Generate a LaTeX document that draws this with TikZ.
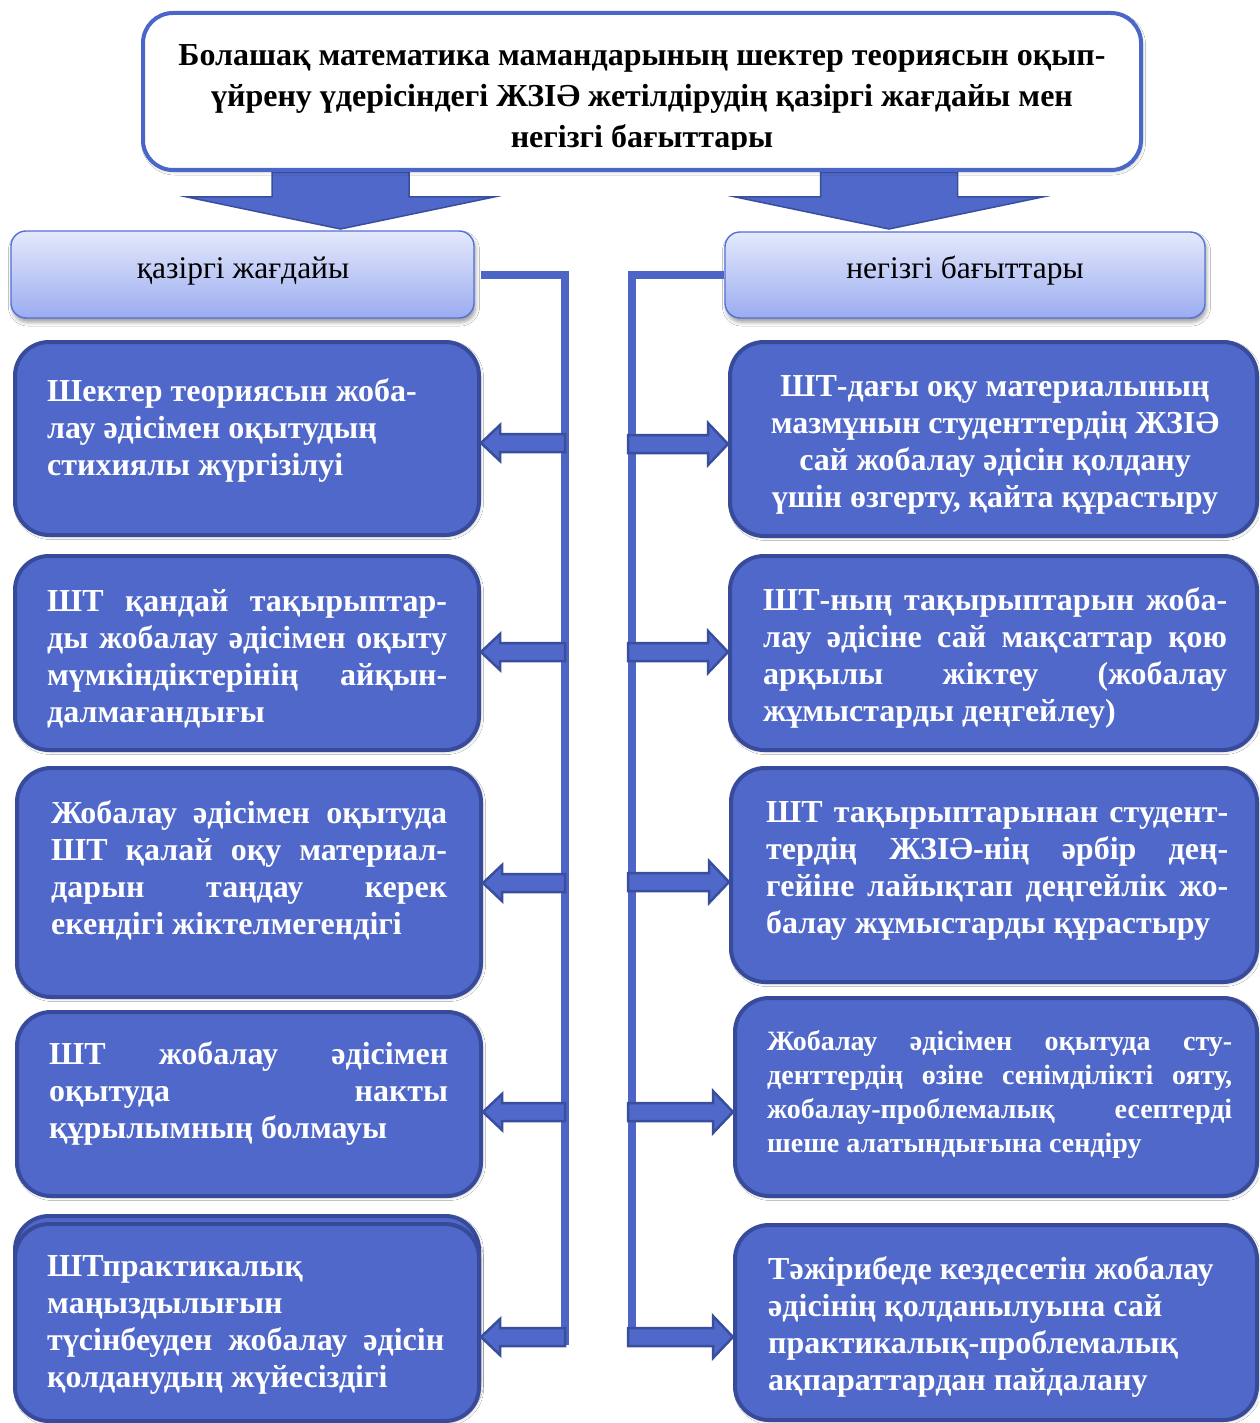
\documentclass[tikz,border=0pt]{standalone}
\usepackage{fontspec}
\setmainfont{Liberation Serif}
\usetikzlibrary{calc,shadows.blur}

\definecolor{boxblue}{RGB}{79,104,201}
\definecolor{boxedge}{RGB}{56,75,155}
\definecolor{lineblue}{RGB}{78,101,200}
\definecolor{arrowedge}{RGB}{58,78,158}
\definecolor{titleedge}{RGB}{74,102,200}
\definecolor{headtop}{RGB}{228,233,252}
\definecolor{headbot}{RGB}{155,172,240}
\definecolor{headedge}{RGB}{84,112,212}

\tikzset{
  panel/.style={draw=boxedge, line width=4pt, fill=boxblue, rounded corners=34pt,
    inner sep=0pt, blur shadow={shadow xshift=1.5pt, shadow yshift=-1.5pt,
    shadow blur radius=3pt, shadow opacity=25}},
  header/.style={draw=headedge, line width=1.4pt, top color=headtop, bottom color=headbot,
    rounded corners=15pt, inner sep=0pt, blur shadow={shadow xshift=1.5pt,
    shadow yshift=-4pt, shadow blur radius=4pt, shadow opacity=40}},
  titlebox/.style={draw=titleedge, line width=4pt, fill=white, rounded corners=30pt,
    inner sep=0pt, blur shadow={shadow xshift=1.5pt, shadow yshift=-2pt,
    shadow blur radius=3pt, shadow opacity=25}},
  bodytext/.style={inner sep=0pt, anchor=north west, text=white, align=left,
    font=\fontsize{32}{37}\selectfont\bfseries},
  smalltext/.style={bodytext, font=\fontsize{28}{34}\selectfont\bfseries},
  headtext/.style={inner sep=0pt, anchor=base, font=\fontsize{31.5}{36}\selectfont},
  spine/.style={draw=lineblue, line width=8pt},
  smallarr/.style={draw=arrowedge, line width=2.5pt, fill=boxblue, line join=miter},
  bigarr/.style={draw=arrowedge, line width=1.5pt, fill=boxblue, line join=miter},
}

% horizontal block arrow from #1 to #2; #3 = half height of head, #4 = head length
\newcommand\sidearrow[4]{%
  \draw[smallarr] let \p1=(#1), \p2=(#2), \n1={sign(\x2-\x1)} in
    (\x1,{\y1+9pt}) -- ({\x2-(\n1)*#4},{\y1+9pt}) -- ({\x2-(\n1)*#4},{\y1+#3})
    -- (\x2,\y1) -- ({\x2-(\n1)*#4},{\y1-#3}) -- ({\x2-(\n1)*#4},{\y1-9pt})
    -- (\x1,{\y1-9pt}) -- cycle;}

% downward block arrow from the bottom of #1 to the tip #2
\newcommand\blockdown[2]{%
  \draw[bigarr] let \p1=(#1), \p2=(#2) in
    ({\x2-68.5pt},{\y1-2pt}) -- ({\x2+68.5pt},{\y1-2pt}) -- ({\x2+68.5pt},{\y2+32pt})
    -- ({\x2+153.5pt},{\y2+32pt}) -- (\x2,\y2) -- ({\x2-153.5pt},{\y2+32pt})
    -- ({\x2-68.5pt},{\y2+32pt}) -- cycle;}

\begin{document}
\begin{tikzpicture}[x=1pt,y=-1pt]
\fill[white] (0,0) rectangle (1259,1423);
\useasboundingbox (0,0) rectangle (1259,1423);

% arrows from the title down to the two headers
\coordinate (tipL) at (340.5,229);
\coordinate (tipR) at (889,229);
\coordinate (titlebottom) at (642,170);
\blockdown{titlebottom}{tipL}
\blockdown{titlebottom}{tipR}

% title
\node[titlebox, minimum width=998pt, minimum height=157pt] (T) at (642,91.5) {};
\begin{scope}
  \clip (143,13) rectangle (1141,150);
  \node[inner sep=0pt, anchor=north, align=center,
        font=\fontsize{32}{41}\selectfont\bfseries] (Tt) at (642,37)
    {\strut Болашақ математика мамандарының шектер теориясын оқып-\\
     үйрену үдерісіндегі ЖЗІӘ жетілдірудің қазіргі жағдайы мен\\
     негізгі бағыттары};
\end{scope}

% headers
\node[header, minimum width=463pt, minimum height=87pt] (HL) at (242.5,274.5) {};
\node[header, minimum width=480pt, minimum height=86pt] (HR) at (965,275) {};
\node[headtext] (HLt) at (243,278) {қазіргі жағдайы};
\node[headtext] (HRt) at (965,278) {негізгі бағыттары};

% left column
\node[panel, minimum width=464pt, minimum height=193pt] (L1) at (247,438.5) {};
\node[panel, minimum width=464pt, minimum height=194pt] (L2) at (247,653) {};
\node[panel, minimum width=464pt, minimum height=229pt] (L3) at (249,882.5) {};
\node[panel, minimum width=464pt, minimum height=184pt] (L4) at (249,1104) {};
\node[panel, minimum width=464pt, minimum height=199pt] (L5b) at (247,1315.5) {};
\node[panel, minimum width=464pt, minimum height=197pt] (L5) at (247,1322.5) {};

% right column
\node[panel, minimum width=527pt, minimum height=194pt] (R1) at (993.5,439) {};
\node[panel, minimum width=527pt, minimum height=194pt] (R2) at (993.5,653) {};
\node[panel, minimum width=526pt, minimum height=214pt] (R3) at (994,875) {};
\node[panel, minimum width=522pt, minimum height=198pt] (R4) at (996,1097) {};
\node[panel, minimum width=522pt, minimum height=195pt] (R5) at (996,1322.5) {};

% texts of the left column
\node[bodytext] (L1t) at (47,375.1)
  {\strut Шектер теориясын жоба-\\лау әдісімен оқытудың\\стихиялы жүргізілуі};
\node[bodytext] (L2t) at (47,585.1)
  {\strut\makebox[400pt][s]{ШТ қандай тақырыптар-}\\
   \makebox[400pt][s]{ды жобалау әдісімен оқыту}\\
   \makebox[400pt][s]{мүмкіндіктерінің айқын-}\\
   далмағандығы};
\node[bodytext] (L3t) at (51,797.1)
  {\strut\makebox[396pt][s]{Жобалау әдісімен оқытуда}\\
   \makebox[396pt][s]{ШТ қалай оқу материал-}\\
   \makebox[396pt][s]{дарын таңдау керек}\\
   екендігі жіктелмегендігі};
\node[bodytext] (L4t) at (49,1038.1)
  {\strut\makebox[399pt][s]{ШТ жобалау әдісімен}\\
   \makebox[399pt][s]{оқытуда накты}\\
   құрылымның болмауы};
\node[bodytext] (L5t) at (47,1250.1)
  {\strut ШТпрактикалық\\маңыздылығын\\
   \makebox[397pt][s]{түсінбеуден жобалау әдісін}\\
   қолданудың жүйесіздігі};

% texts of the right column
\node[bodytext, anchor=north, align=center] (R1t) at (995,370.1)
  {\strut ШТ-дағы оқу материалының\\мазмұнын студенттердің ЖЗІӘ\\
   сай жобалау әдісін қолдану\\үшін өзгерту, қайта құрастыру};
\node[bodytext] (R2t) at (763,584.1)
  {\strut\makebox[464pt][s]{ШТ-ның тақырыптарын жоба-}\\
   \makebox[464pt][s]{лау әдісіне сай мақсаттар қою}\\
   \makebox[464pt][s]{арқылы жіктеу (жобалау}\\
   жұмыстарды деңгейлеу)};
\node[bodytext] (R3t) at (766,796.1)
  {\strut\makebox[462pt][s]{ШТ тақырыптарынан студент-}\\
   \makebox[462pt][s]{тердің ЖЗІӘ-нің әрбір дең-}\\
   \makebox[462pt][s]{гейіне лайықтап деңгейлік жо-}\\
   балау жұмыстарды құрастыру};
\node[smalltext] (R4t) at (767,1026.2)
  {\strut\makebox[465pt][s]{Жобалау әдісімен оқытуда сту-}\\
   \makebox[465pt][s]{денттердің өзіне сенімділікті ояту,}\\
   \makebox[465pt][s]{жобалау-проблемалық есептерді}\\
   шеше алатындығына сендіру};
\node[bodytext] (R5t) at (768,1253.1)
  {\strut Тәжірибеде кездесетін жобалау\\әдісінің қолданылуына сай\\
   практикалық-проблемалық\\ақпараттардан пайдалану};

% vertical distribution lines
\coordinate (spL) at (565,1345);
\coordinate (spR) at (632,1345);
\draw[spine] ([xshift=6pt]HL.east) -| (spL);
\draw[spine] (HR.west) -| (spR);

% arrows from the lines to the boxes
\coordinate (aL1) at (565,443);
\coordinate (aL2) at (565,652);
\coordinate (aL3) at (565,883);
\coordinate (aL4) at (565,1112);
\coordinate (aL5) at (565,1337);
\coordinate (aR1) at (628,444);
\coordinate (aR2) at (628,652);
\coordinate (aR3) at (628,882);
\coordinate (aR4) at (628,1112);
\coordinate (aR5) at (628,1337);
\foreach \i in {1,...,5}{
  \sidearrow{aL\i}{L\i.east |- aL\i}{18pt}{19pt}
  \sidearrow{aR\i}{R\i.west |- aR\i}{21pt}{20pt}
}
\end{tikzpicture}
\end{document}
